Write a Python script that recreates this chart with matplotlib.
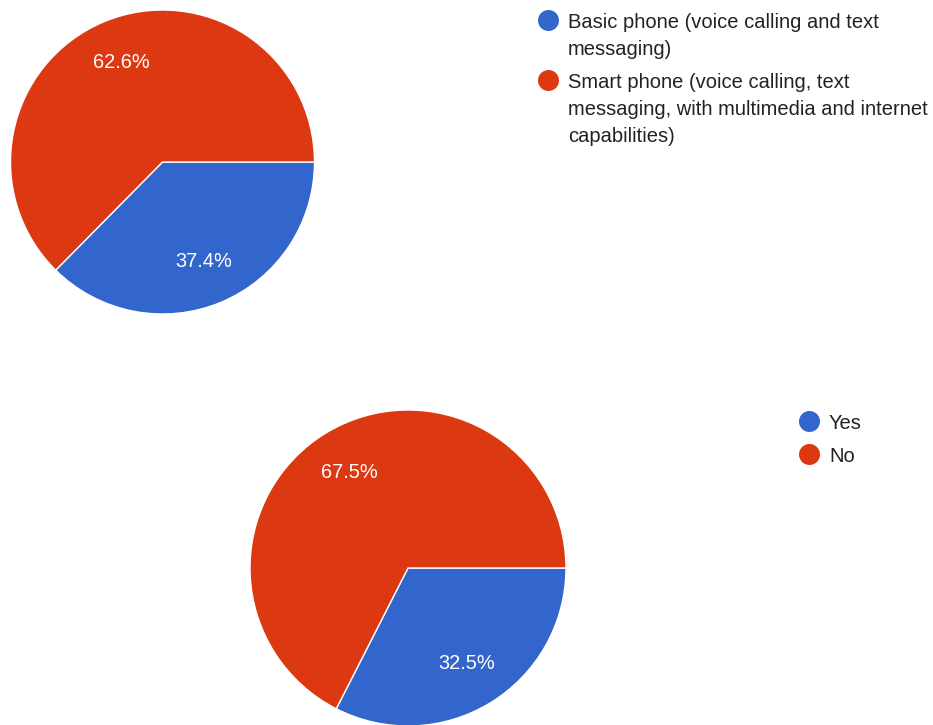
import matplotlib.pyplot as plt

# survey answers, shares in percent
phone_labels = ['Basic phone (voice calling and text\nmessaging)',
                'Smart phone (voice calling, text\nmessaging, with multimedia and internet\ncapabilities)']
phone_share = [37.4, 62.6]

yesno_labels = ['Yes', 'No']
yesno_share = [32.5, 67.5]

colors = ['#3366CC', '#DC3912']

W, H = 933, 725
plt.rcParams['font.family'] = ['Liberation Sans', 'DejaVu Sans']
px = 72 / 100  # points per pixel at dpi 100

fig = plt.figure(figsize=(W / 100, H / 100), dpi=100)
ax = fig.add_axes([0, 0, 1, 1])


def draw_pie(values, cx, cy, r):
    # cy is given from the top edge
    wedges, texts, autotexts = ax.pie(
        values, colors=colors, startangle=0, counterclock=False,
        center=(cx, H - cy), radius=r, autopct='%.1f%%', pctdistance=0.71,
        wedgeprops=dict(edgecolor='white', linewidth=1),
        textprops=dict(color='white', fontsize=20 * px))
    return wedges


def draw_legend(labels, x, y0, line_h, gap):
    y = y0
    for lab, col in zip(labels, colors):
        ax.scatter([x], [H - y], s=(21 * px) ** 2, color=col, marker='o', linewidths=0)
        lines = lab.split('\n')
        for i, line in enumerate(lines):
            ax.text(x + 20, H - (y + i * line_h), line, fontsize=20.2 * px,
                    color='#222222', va='center_baseline', ha='left')
        y += len(lines) * line_h + gap


draw_pie(phone_share, 162.5, 162, 152)
draw_pie(yesno_share, 408, 568, 158)

draw_legend(phone_labels, 548, 20, 27, 6)
draw_legend(yesno_labels, 809, 421, 27, 6)

ax.set_xlim(0, W)
ax.set_ylim(0, H)
ax.set_aspect('auto')
ax.axis('off')

plt.savefig('out.png', dpi=100)
